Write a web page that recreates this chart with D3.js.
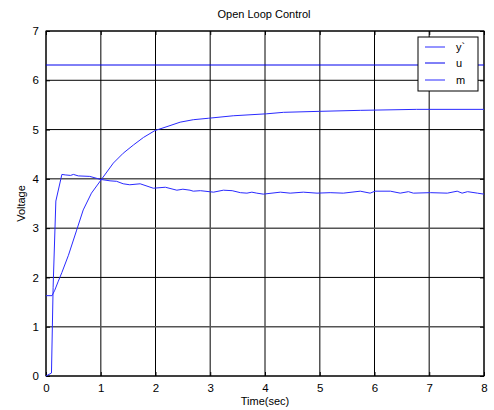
<!DOCTYPE html>
<html>
<head>
<meta charset="utf-8">
<script src="https://cdn.jsdelivr.net/npm/d3@7"></script>
<style>
  body { margin: 0; background: #fff; }
  svg text { font-family: "Liberation Sans", Arial, sans-serif; }
</style>
</head>
<body>
<svg id="chart" width="494" height="410"></svg>
<script>
var fastT = [0, 0.1, 0.13, 0.18, 0.29, 0.35, 0.45, 0.5, 0.59, 0.8, 0.99, 1.17, 1.29, 1.41, 1.53, 1.72, 1.96, 2.18, 2.39, 2.5, 2.63, 2.69, 2.82, 3.06, 3.24, 3.4, 3.55, 3.67, 3.76, 3.85, 3.97, 4.28, 4.46, 4.7, 4.95, 5.19, 5.43, 5.74, 5.92, 6.01, 6.29, 6.47, 6.62, 6.71, 7.02, 7.33, 7.51, 7.6, 7.7, 7.88, 8];
var fastV = [0, 0.06, 1.8, 3.55, 4.09, 4.08, 4.07, 4.09, 4.06, 4.05, 3.99, 3.96, 3.95, 3.9, 3.88, 3.9, 3.81, 3.83, 3.77, 3.79, 3.77, 3.75, 3.76, 3.73, 3.77, 3.76, 3.72, 3.71, 3.73, 3.71, 3.69, 3.73, 3.71, 3.73, 3.71, 3.72, 3.71, 3.75, 3.71, 3.75, 3.75, 3.71, 3.74, 3.71, 3.72, 3.71, 3.75, 3.71, 3.74, 3.71, 3.69];
var slowT = [0, 0.11, 0.16, 0.22, 0.29, 0.41, 0.56, 0.68, 0.83, 1.02, 1.23, 1.41, 1.6, 1.78, 1.99, 2.21, 2.45, 2.69, 2.97, 3.42, 4.03, 4.34, 5.0, 5.74, 6.77, 8];
var slowV = [1.63, 1.63, 1.74, 1.91, 2.1, 2.45, 2.96, 3.37, 3.71, 4.0, 4.32, 4.52, 4.69, 4.84, 4.98, 5.06, 5.15, 5.2, 5.23, 5.28, 5.32, 5.35, 5.37, 5.39, 5.41, 5.41];
var uT = [0, 8];
var uV = [6.31, 6.31];
var xTicks = [0, 1, 2, 3, 4, 5, 6, 7, 8];
var yTicks = [0, 1, 2, 3, 4, 5, 6, 7];
var legendNames = ["y`", "u", "m"];
var legendColors = ["#2a2aff", "#0000ee", "#2a2aff"];

var svg = d3.select("#chart");
var plotL = 46, plotR = 484, plotT = 31, plotB = 376;

var x = d3.scaleLinear().domain([0, 8]).range([plotL, plotR]);
var y = d3.scaleLinear().domain([0, 7]).range([plotB, plotT]);

//grid
svg.append("g").selectAll("line").data(xTicks).join("line")
    .attr("x1", function(d) { return x(d); }).attr("x2", function(d) { return x(d); })
    .attr("y1", plotT).attr("y2", plotB)
    .attr("stroke", function(d) { return d % 2 ? "#555" : "#000"; })
    .attr("stroke-width", function(d) { return d % 2 ? 1.5 : 1; });
svg.append("g").selectAll("line").data(yTicks).join("line")
    .attr("y1", function(d) { return y(d); }).attr("y2", function(d) { return y(d); })
    .attr("x1", plotL).attr("x2", plotR)
    .attr("stroke", function(d) { return (d == 1 || d == 3) ? "#555" : "#000"; })
    .attr("stroke-width", function(d) { return (d == 1 || d == 3) ? 1.5 : 1; });

//axes
svg.append("g").attr("transform", "translate(0," + plotB + ")")
    .call(d3.axisBottom(x).tickValues(xTicks).tickFormat(d3.format("d")).tickSize(-4).tickPadding(8));
svg.append("g").attr("transform", "translate(" + plotL + ",0)")
    .call(d3.axisLeft(y).tickValues(yTicks).tickFormat(d3.format("d")).tickSize(-4).tickPadding(7));
svg.append("g").attr("transform", "translate(0," + plotT + ")")
    .call(d3.axisTop(x).tickValues(xTicks).tickSize(-4).tickFormat(""));
svg.append("g").attr("transform", "translate(" + plotR + ",0)")
    .call(d3.axisRight(y).tickValues(yTicks).tickSize(-4).tickFormat(""));
svg.selectAll(".domain").remove();
svg.selectAll(".tick text").attr("font-size", 11.5).attr("fill", "#000")
    .style("font-family", "'Liberation Sans', Arial, sans-serif");
svg.selectAll(".tick line").attr("stroke", "#000");

svg.append("rect")
    .attr("x", plotL).attr("y", plotT)
    .attr("width", plotR - plotL).attr("height", plotB - plotT)
    .attr("fill", "none").attr("stroke", "#000").attr("stroke-width", 1);

//lines
var line = d3.line()
    .x(function(d) { return x(d[0]); })
    .y(function(d) { return y(d[1]); });

function drawSeries(ts, vs, color) {
    svg.append("path")
        .datum(d3.zip(ts, vs))
        .attr("d", line)
        .attr("fill", "none")
        .attr("stroke", color)
        .attr("stroke-width", 1);
}
drawSeries(uT, uV, legendColors[1]);
drawSeries(slowT, slowV, legendColors[0]);
drawSeries(fastT, fastV, legendColors[2]);

//labels
svg.append("text").attr("x", 264).attr("y", 18).attr("text-anchor", "middle")
    .attr("font-size", 11).text("Open Loop Control");
svg.append("text").attr("x", 265).attr("y", 405).attr("text-anchor", "middle")
    .attr("font-size", 11).text("Time(sec)");
svg.append("text").attr("transform", "translate(25," + ((plotT + plotB) / 2) + ") rotate(-90)")
    .attr("text-anchor", "middle").attr("font-size", 11).text("Voltage");

//legend
var legend = svg.append("g");
legend.append("rect")
    .attr("x", 418).attr("y", 37).attr("width", 60).attr("height", 54)
    .attr("fill", "#fff").attr("stroke", "#000").attr("stroke-width", 1);
var rows = legend.selectAll("g.row").data(legendNames).join("g")
    .attr("class", "row")
    .attr("transform", function(d, i) { return "translate(0," + [47, 63, 80][i] + ")"; });
rows.append("line")
    .attr("x1", 425).attr("x2", 445).attr("y1", 0).attr("y2", 0)
    .attr("stroke", function(d, i) { return legendColors[i]; });
rows.append("text")
    .attr("x", 456).attr("y", 4).attr("font-size", 11)
    .text(function(d) { return d; });
</script>
</body>
</html>
